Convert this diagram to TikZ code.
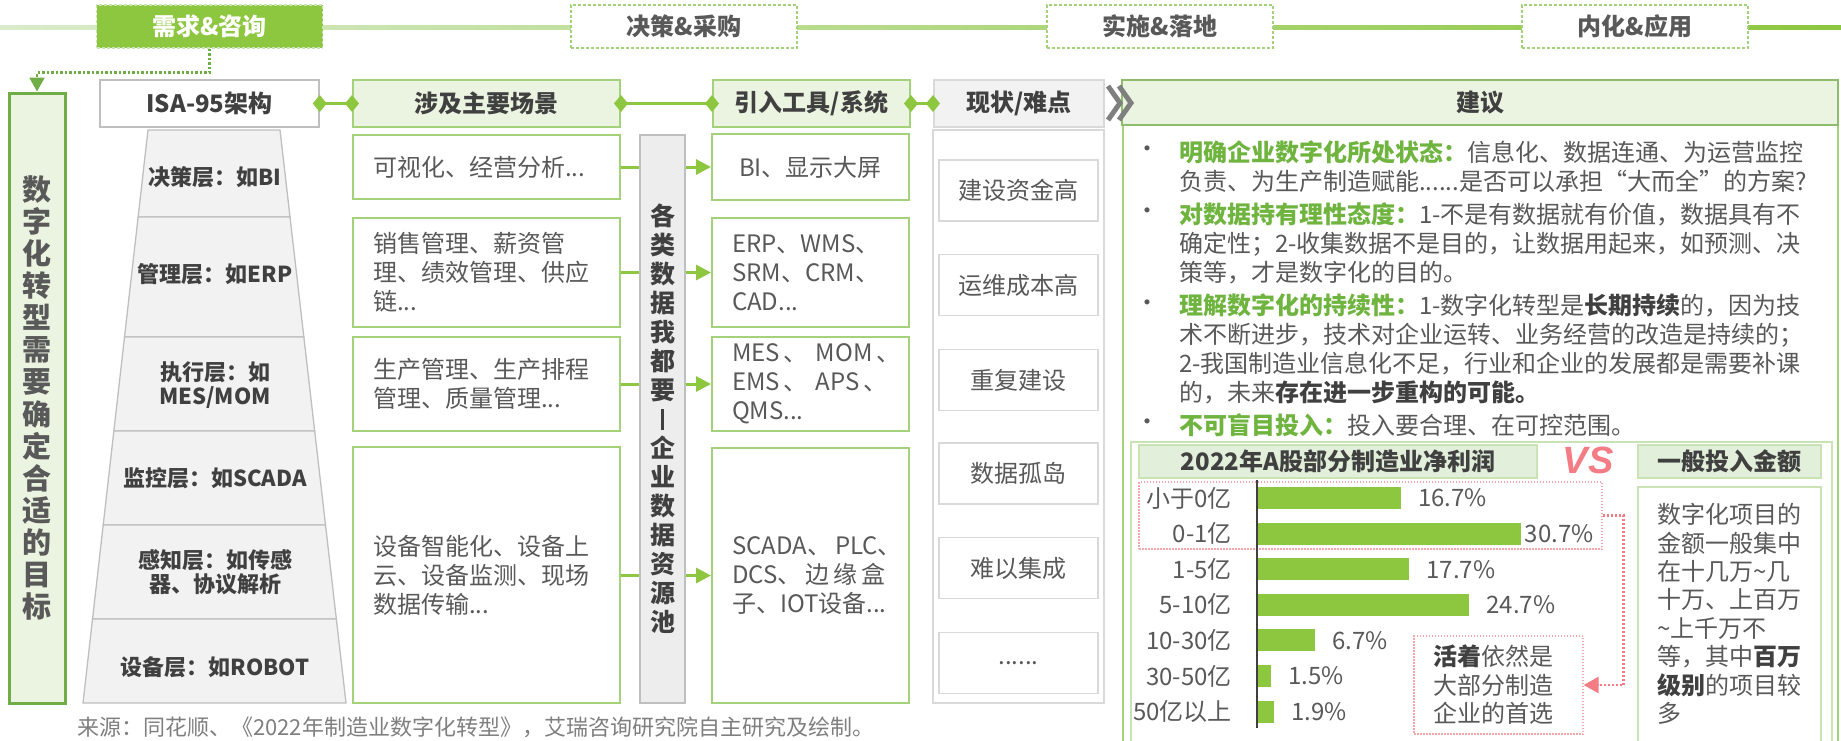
\documentclass[tikz,border=0pt]{standalone}
\usepackage{fontspec}
\setmainfont{Noto Sans CJK SC}
\newfontfamily\vsf{Liberation Sans}
\usetikzlibrary{arrows.meta,calc}
\definecolor{G}{HTML}{8DC63F}
\definecolor{GD}{HTML}{70AD47}
\definecolor{GT}{HTML}{6FB43F}
\definecolor{GB}{HTML}{A4D27A}
\definecolor{GF}{HTML}{EAF4E0}
\definecolor{GF2}{HTML}{E2EFDA}
\definecolor{GL}{HTML}{C9E3B4}
\definecolor{T1}{HTML}{404040}
\definecolor{T2}{HTML}{595959}
\definecolor{T3}{HTML}{7F7F7F}
\definecolor{GR}{HTML}{BFBFBF}
\definecolor{GR2}{HTML}{D9D9D9}
\definecolor{PF}{HTML}{F2F2F2}
\definecolor{PL}{HTML}{EDEDED}
\definecolor{PK}{HTML}{F47C84}
\definecolor{PKL}{HTML}{F2A7AD}
\newcommand\myfs[2]{\fontsize{#1}{#2}\selectfont}
\begin{document}
\begin{tikzpicture}[x=1pt,y=-1pt,
  topbox/.style={draw=GB, dash pattern=on 3pt off 2pt, line width=1.2, fill=white, minimum width=226, minimum height=43, inner sep=0, font=\myfs{24}{28}\bfseries, text=T2},
  hdrg/.style={draw=GB, line width=2, fill=GF, minimum height=47, inner sep=0, font=\myfs{24}{28}\bfseries, text=T1},
  hdrw/.style={draw=GR, line width=1.5, fill=white, minimum height=47, inner sep=0, font=\myfs{24}{28}\bfseries, text=T1},
  hdrp/.style={draw=GR2, line width=2, fill=PF, minimum height=47, inner sep=0, font=\myfs{24}{28}\bfseries, text=T1},
  gbox/.style={draw=GB, line width=2, fill=white, inner xsep=20, inner ysep=0, font=\myfs{24}{29}, text=T2, align=left},
  dbox/.style={draw=GR2, line width=1.5, fill=white, minimum width=159, minimum height=61, inner sep=0, font=\myfs{24}{28}, text=T2},
  lvl/.style={font=\myfs{22}{24}\bfseries, text=T1, align=center, inner sep=0},
  conn/.style={G, line width=3},
  arr/.style={G, line width=3, -{Triangle[length=15pt,width=15pt]}},
  dia/.style={G, line width=3, {Diamond[length=14pt,width=17pt]}-{Diamond[length=14pt,width=17pt]}, shorten <=-7pt, shorten >=-7pt},
  btxt/.style={anchor=west, align=left, text width=640, inner sep=0, font=\myfs{24}{29}, text=T2},
  bdot/.style={inner sep=0, font=\myfs{24}{29}, text=T2},
  cat/.style={anchor=east, inner sep=0, font=\myfs{24}{28}, text=T2},
  val/.style={anchor=west, inner sep=0, font=\myfs{24}{28}, text=T2},
]
\clip (0,0) rectangle (1841,740);
\fill[white] (0,0) rectangle (1841,740);

% top timeline
\shade[left color=GL!70, right color=G] (0,25) rectangle (1841,29.5);
\node[topbox, fill=G, draw=GL, text=white] (xq) at (209.5,26.5) {需求\&咨询};
\node[topbox] (jc) at (684,26.5) {决策\&采购};
\node[topbox] (ss) at (1160,26.5) {实施\&落地};
\node[topbox] (nh) at (1635,26.5) {内化\&应用};

% left goal box
\node[draw=GD, line width=3, fill=GF, minimum width=56, minimum height=610, inner sep=0,
      font=\myfs{29}{32.1}\bfseries, text=T2, align=center] (szh) at (37,398)
  {数\\字\\化\\转\\型\\需\\要\\确\\定\\合\\适\\的\\目\\标};
\draw[GD, line width=2.5, dash pattern=on 2.5pt off 2pt, -{Triangle[length=14pt,width=15pt]}]
  (xq.south) -- ++(0,24) -| (szh.north);

% header row
\node[hdrw, minimum width=219] (isa) at (209.5,103.5) {ISA-95架构};
\node[hdrg, minimum width=267] (sj) at (486.5,103.5) {涉及主要场景};
\node[hdrg, minimum width=197] (yr) at (811.5,103.5) {引入工具/系统};
\node[hdrp, minimum width=170] (xz) at (1019,103.5) {现状/难点};
\draw[dia] (isa.east) -- (sj.west);
\draw[dia] (sj.east) -- (yr.west);
\draw[dia] (yr.east) -- (xz.west);

% right panel frame
\draw[GB, line width=2] (1123,124) -- (1123,745);
\draw[GB, line width=2] (1838,124) -- (1838,745);
\node[draw=GD!80, line width=2.5, fill=GF, minimum width=716, minimum height=45, inner sep=0,
      font=\myfs{24}{28}\bfseries, text=T1] (jy) at (1480,102.5) {建议};
\draw[T3, line width=5] (1108,86) -- (1120,103) -- (1108,120);
\draw[T3, line width=5] (1119,86) -- (1131,103) -- (1119,120);

% pyramid
\foreach \ya/\yb in {130/217,217/337,337/431,431/525,525/619,619/703}{
  \filldraw[fill=PF, draw=GR, line width=1.3]
    ({148-0.1134*(\ya-130)},\ya) -- ({280+0.1152*(\ya-130)},\ya) --
    ({280+0.1152*(\yb-130)},\yb) -- ({148-0.1134*(\yb-130)},\yb) -- cycle;
}
\node[lvl] (p1) at (215,177) {决策层：如BI};
\node[lvl] (p2) at (215,274) {管理层：如ERP};
\node[lvl] (p3) at (215,385) {执行层：如\\MES/MOM};
\node[lvl] (p4) at (215,478) {监控层：如SCADA};
\node[lvl] (p5) at (215,572) {感知层：如传感\\器、协议解析};
\node[lvl] (p6) at (215,667) {设备层：如ROBOT};

% scene boxes
\node[gbox, text width=227, minimum height=64] (s1) at (486.5,167) {可视化、经营分析...};
\node[gbox, text width=227, minimum height=109] (s2) at (486.5,272.5) {销售管理、薪资管\\理、绩效管理、供应\\链...};
\node[gbox, text width=227, minimum height=94] (s3) at (486.5,384) {生产管理、生产排程\\管理、质量管理...};
\node[gbox, text width=227, minimum height=256] (s4) at (486.5,575) {设备智能化、设备上\\云、设备监测、现场\\数据传输...};

% data pool
\node[draw=GR, line width=1.5, fill=PL, minimum width=45, minimum height=568, inner sep=0,
      font=\myfs{25}{29}\bfseries, text=T1, align=center] (pool) at (662.5,419)
  {各\\类\\数\\据\\我\\都\\要\\\rule[-1pt]{3pt}{21pt}\\企\\业\\数\\据\\资\\源\\池};

% tool boxes
\node[gbox, text width=157, minimum height=66, align=center] (t1) at (810.5,167) {BI、显示大屏};
\node[gbox, text width=157, minimum height=109] (t2) at (810.5,272.5) {ERP、WMS、\\SRM、CRM、\\CAD...};
\node[gbox, text width=157, minimum height=94] (t3) at (810.5,384) {MES\,、\,\,MOM\,、\\EMS\,、\,\,APS\,、\\QMS...};
\node[gbox, text width=157, minimum height=255] (t4) at (810.5,575.5) {SCADA、\,PLC、\\DCS、\,边\,缘\,盒\\子、IOT设备...};

\foreach \i in {1,...,4}{
  \draw[conn] (s\i.east) -- (s\i.east -| pool.west);
  \draw[arr] (pool.east |- t\i.west) -- (t\i.west);
}

% difficulties
\node[draw=GR2, line width=1.5, fill=white, minimum width=171, minimum height=573, inner sep=0] (xzo) at (1018.5,416.5) {};
\node[dbox] (d1) at (1018.5,190.5) {建设资金高};
\node[dbox] (d2) at (1018.5,285) {运维成本高};
\node[dbox] (d3) at (1018.5,380) {重复建设};
\node[dbox] (d4) at (1018.5,473.5) {数据孤岛};
\node[dbox] (d5) at (1018.5,568) {难以集成};
\node[dbox] (d6) at (1018.5,663) {......};

% suggestions
\node[bdot] (b1d) at (1147,152) {•};
\node[btxt] (b1) at (1179,167) {\textcolor{GT}{\bfseries 明确企业数字化所处状态：}信息化、数据连通、为运营监控\\负责、为生产制造赋能......是否可以承担“大而全”的方案?};
\node[bdot] (b2d) at (1147,214) {•};
\node[btxt] (b2) at (1179,243) {\textcolor{GT}{\bfseries 对数据持有理性态度：}1-不是有数据就有价值，数据具有不\\确定性；2-收集数据不是目的，让数据用起来，如预测、决\\策等，才是数字化的目的。};
\node[bdot] (b3d) at (1147,306) {•};
\node[btxt] (b3) at (1179,349) {\textcolor{GT}{\bfseries 理解数字化的持续性：}1-数字化转型是\textcolor{T1}{\bfseries 长期持续}的，因为技\\术不断进步，技术对企业运转、业务经营的改造是持续的；\\2-我国制造业信息化不足，行业和企业的发展都是需要补课\\的，未来\textcolor{T1}{\bfseries 存在进一步重构的可能。}};
\node[bdot] (b4d) at (1147,425) {•};
\node[btxt] (b4) at (1179,425) {\textcolor{GT}{\bfseries 不可盲目投入：}投入要合理、在可控范围。};

% chart panel
\draw[GL, line width=1.2] (1131,745) -- (1131,442) -- (1832,442) -- (1832,745);
\node[draw=GL, fill=GF2, line width=1.2, minimum width=398, minimum height=33, inner sep=0,
      font=\myfs{24}{28}\bfseries, text=T1] (ct) at (1338,461.5) {2022年A股部分制造业净利润};
\node[font=\vsf\myfs{38}{40}\bfseries\itshape, text=PK, inner sep=0] (vs) at (1588,460) {VS};
\node[draw=GL, fill=GF2, line width=1.2, minimum width=183, minimum height=33, inner sep=0,
      font=\myfs{24}{28}\bfseries, text=T1] (gt) at (1729.5,461.5) {一般投入金额};
\node[draw=GL, line width=1.2, fill=white, minimum width=183, minimum height=262, inner sep=0] (gb) at (1729.5,618) {};
\node[anchor=west, align=left, inner sep=0, font=\myfs{24}{28.4}, text=T2] (gtx) at (1657,614)
  {数字化项目的\\金额一般集中\\在十几万\textasciitilde 几\\十万、上百万\\\textasciitilde 上千万不\\等，其中\textcolor{T1}{\bfseries 百万}\\\textcolor{T1}{\bfseries 级别}的项目较\\多};

\node[draw=PKL, dash pattern=on 1.5pt off 1.5pt, line width=1.2, minimum width=463, minimum height=67, inner sep=0] (pr) at (1370.5,515.5) {};
\foreach \i/\lab/\v/\off in {0/小于0亿/16.7/17, 1/0-1亿/30.7/4, 2/1-5亿/17.7/17, 3/5-10亿/24.7/17, 4/10-30亿/6.7/17, 5/30-50亿/1.5/17, 6/50亿以上/1.9/17}{
  \pgfmathsetmacro\yy{498+35.6*\i}
  \fill[G] (1258,{\yy-11}) rectangle ({1258+8.55*\v},{\yy+11});
  \node[cat] (c\i) at (1232,\yy) {\lab};
  \node[val] (v\i) at ({1258+8.55*\v+\off},\yy) {\v\%};
}
\draw[T1, line width=1.5] (1257,480) -- (1257,728);

\node[draw=PKL, dash pattern=on 1.5pt off 1.5pt, line width=1.2, text width=131, inner xsep=19, inner ysep=0,
      minimum height=98, align=left, font=\myfs{24}{28.5}, text=T2] (cb) at (1498.5,685)
  {\textcolor{T1}{\bfseries 活着}依然是\\大部分制造\\企业的首选};
\draw[PK, line width=2.5, dash pattern=on 2pt off 2pt, -{Triangle[length=15pt,width=16pt]}]
  (pr.east) -- ++(21,0) |- (cb.east);

% source
\node[anchor=west, inner sep=0, font=\myfs{22}{26}, text=T3] (src) at (77,727)
  {来源：同花顺、《2022年制造业数字化转型》，艾瑞咨询研究院自主研究及绘制。};
\end{tikzpicture}
\end{document}
